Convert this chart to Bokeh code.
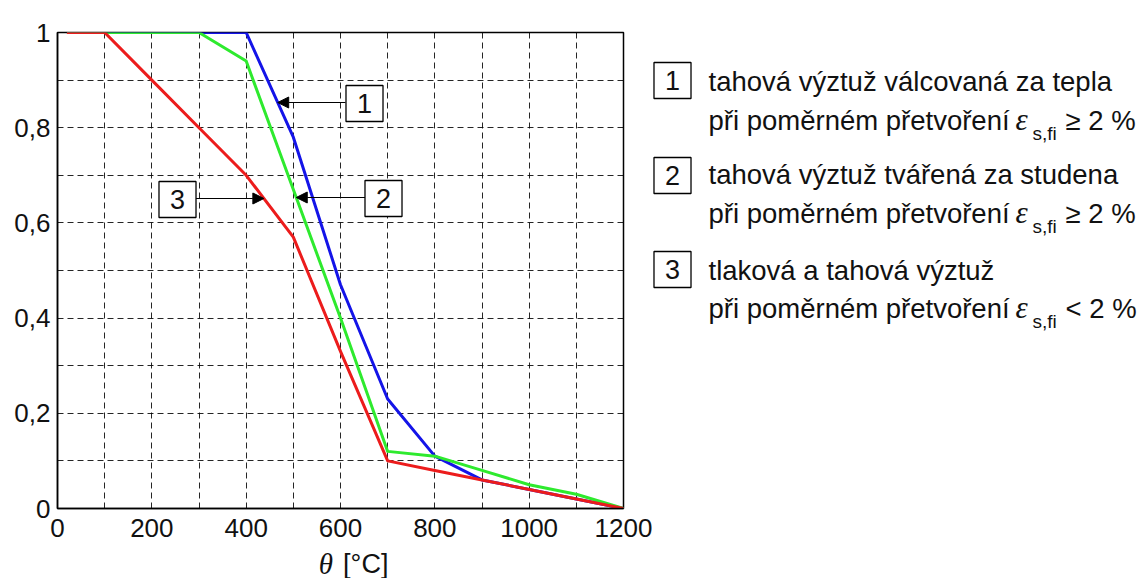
import numpy as np
from bokeh.plotting import figure
from bokeh.models import Range1d, FixedTicker, Label, Arrow, NormalHead
from bokeh.layouts import row, column
from bokeh.embed import file_html
from bokeh.resources import INLINE

# ---------------- data ----------------
theta = [20, 100, 200, 300, 400, 500, 600, 700, 800, 900, 1000, 1100, 1200]
ks_curve1 = [1.0, 1.0, 1.0, 1.0, 1.0, 0.78, 0.47, 0.23, 0.11, 0.06, 0.04, 0.02, 0.0]
ks_curve2 = [1.0, 1.0, 1.0, 1.0, 0.94, 0.67, 0.40, 0.12, 0.11, 0.08, 0.05, 0.03, 0.0]
ks_curve3 = [1.0, 1.0, 0.90, 0.80, 0.70, 0.57, 0.33, 0.10, 0.08, 0.06, 0.04, 0.02, 0.0]

x_ticks = [0, 200, 400, 600, 800, 1000, 1200]
x_tick_labels = ["0", "200", "400", "600", "800", "1000", "1200"]
y_ticks = [0, 0.2, 0.4, 0.6, 0.8, 1]
y_tick_labels = ["0", "0,2", "0,4", "0,6", "0,8", "1"]
x_grid_ticks = [100, 200, 300, 400, 500, 600, 700, 800, 900, 1000, 1100]
y_grid_ticks = [0.1, 0.2, 0.3, 0.4, 0.5, 0.6, 0.7, 0.8, 0.9]

curve_numbers = ["1", "2", "3"]
legend_first_lines = ["tahová výztuž válcovaná za tepla",
                      "tahová výztuž tvářená za studena",
                      "tlaková a tahová výztuž"]
legend_second_prefix = "při poměrném přetvoření"
legend_symbol = "ε"
legend_subscript = "s,fi"
legend_relations = ["≥ 2 %", "≥ 2 %", "< 2 %"]
x_title_symbol = "θ"
x_title_unit = "[°C]"

# ---------------- layout ----------------
TOTAL_W, TOTAL_H = 1148, 578
MW, MH = 652, 548            # main chart canvas
SH = TOTAL_H - MH            # strip under the chart for the axis title
LW = TOTAL_W - MW            # legend canvas on the right
FL, FR, FT, FB = 57, 623, 32, 508
XMIN, XMAX, YMIN, YMAX = 0, 1200, 0, 1

def dx(px):
    return (px - FL) / (FR - FL) * (XMAX - XMIN) + XMIN

def dy(py):
    return (FB - py) / (FB - FT) * (YMAX - YMIN) + YMIN

SANS = "Liberation Sans"
SERIF = "Liberation Serif"
INK = "#111111"

p = figure(width=MW, height=MH, output_backend="svg", toolbar_location=None,
           x_range=Range1d(XMIN, XMAX), y_range=Range1d(YMIN, YMAX),
           min_border_left=FL, min_border_right=MW - FR,
           min_border_top=FT, min_border_bottom=MH - FB,
           background_fill_color="white", border_fill_color="white")
p.outline_line_color = "black"
p.outline_line_width = 1.5

for ax in (p.xaxis[0], p.yaxis[0]):
    ax.axis_line_color = "black"
    ax.axis_line_width = 1.5
    ax.major_tick_line_color = None
    ax.minor_tick_line_color = None
    ax.major_tick_out = 0
    ax.major_tick_in = 0
    ax.minor_tick_out = 0
    ax.minor_tick_in = 0
    ax.major_label_text_font = SANS
    ax.major_label_text_font_size = "26px"
    ax.major_label_text_color = INK
p.xaxis.major_label_standoff = 10
p.yaxis.major_label_standoff = 7

p.xaxis.ticker = FixedTicker(ticks=x_ticks)
p.xaxis.major_label_overrides = {t: l for t, l in zip(x_ticks, x_tick_labels)}
p.yaxis.ticker = FixedTicker(ticks=y_ticks)
p.yaxis.major_label_overrides = {t: l for t, l in zip(y_ticks, y_tick_labels)}

p.xgrid.ticker = FixedTicker(ticks=x_grid_ticks)
p.ygrid.ticker = FixedTicker(ticks=y_grid_ticks)
for g in (p.xgrid[0], p.ygrid[0]):
    g.grid_line_color = "black"
    g.grid_line_width = 1
    g.grid_line_dash = "6 4"
    g.grid_line_alpha = 0.85

# ---------------- curves ----------------
curve_colors = ["#1414e8", "#2eea2e", "#ec1c1c"]
curves = [ks_curve1, ks_curve2, ks_curve3]
for ks, c in zip(curves, curve_colors):
    p.line(theta, ks, line_color=c, line_width=3, line_join="round")

# ---------------- number boxes ----------------
def box_label(x, y, txt):
    return Label(x=x, y=y, text=txt, text_font=SANS, text_font_size="27px",
                 text_align="center", text_baseline="middle", text_color=INK,
                 border_line_color="black", border_line_width=1.3,
                 background_fill_color="white",
                 padding=dict(left=11, right=11, top=8, bottom=9))

def tip_x(ks, y):
    return float(np.interp(y, ks[::-1], theta[::-1]))

callouts = [
    # (curve index, box centre px x, px y, arrow start px x)
    (0, 364, 102, 345),
    (1, 383, 197, 365),
    (2, 177, 198, 195),
]
for idx, bx, by, ax_start in callouts:
    yv = dy(by)
    p.add_layout(Arrow(end=NormalHead(size=11, fill_color="black", line_color="black", line_width=1),
                       x_start=dx(ax_start), y_start=yv,
                       x_end=tip_x(curves[idx], yv), y_end=yv,
                       line_color="black", line_width=1.2))
    p.add_layout(box_label(dx(bx), dy(by + 1), curve_numbers[idx]))

def mid_label(x, y, txt, font=SANS, size="27px", style="normal"):
    return Label(x=x, y=y, text=txt, text_font=font, text_font_style=style,
                 text_font_size=size, text_color=INK,
                 text_align="left", text_baseline="middle")

# ---------------- axis title strip ----------------
strip = figure(width=MW, height=SH, output_backend="svg", toolbar_location=None,
               x_range=Range1d(0, MW), y_range=Range1d(SH, 0),
               x_axis_location=None, y_axis_location=None, min_border=0,
               background_fill_color="white", border_fill_color="white")
strip.outline_line_color = None
strip.grid.visible = False
TITLE_MID = 563 - MH
strip.add_layout(mid_label(301, TITLE_MID, x_title_symbol, SERIF, "29px", "italic"))
strip.add_layout(mid_label(329, TITLE_MID, x_title_unit, SANS, "27px"))

# ---------------- legend canvas ----------------
lg = figure(width=LW, height=TOTAL_H, output_backend="svg", toolbar_location=None,
            x_range=Range1d(0, LW), y_range=Range1d(TOTAL_H, 0),
            x_axis_location=None, y_axis_location=None, min_border=0,
            background_fill_color="white", border_fill_color="white")
lg.outline_line_color = None
lg.grid.visible = False

def lx(px):
    return px - MW

box_centres_y = [80, 175, 269]
first_mids = [81, 174, 270]
second_mids = [120, 213, 308]
LEG_FS = "27.5px"
for i in range(3):
    lg.add_layout(box_label(lx(672), box_centres_y[i], curve_numbers[i]))
    lg.add_layout(mid_label(lx(708), first_mids[i], legend_first_lines[i], SANS, LEG_FS))
    lg.add_layout(mid_label(lx(708), second_mids[i], legend_second_prefix, SANS, LEG_FS))
    lg.add_layout(mid_label(lx(1015), second_mids[i] - 1, legend_symbol, SERIF, "31px", "italic"))
    lg.add_layout(mid_label(lx(1032), second_mids[i] + 13, legend_subscript, SANS, "19px"))
    lg.add_layout(mid_label(lx(1065), second_mids[i], legend_relations[i], SANS, LEG_FS))

layout = row(column(p, strip, spacing=0), lg, spacing=0)
open("out.html", "w").write(file_html(layout, INLINE))
